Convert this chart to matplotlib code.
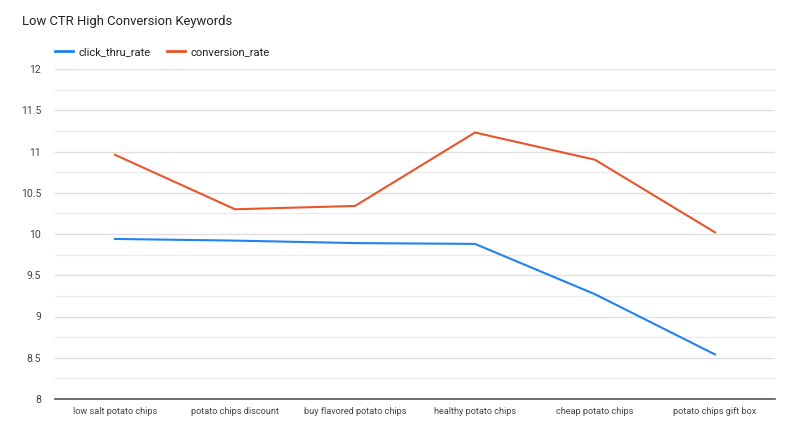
import matplotlib
matplotlib.use("Agg")
import matplotlib.pyplot as plt
from matplotlib.ticker import MultipleLocator
from matplotlib.lines import Line2D

categories = ["low salt potato chips", "potato chips discount", "buy flavored potato chips",
              "healthy potato chips", "cheap potato chips", "potato chips gift box"]
click_thru_rate = [9.94, 9.92, 9.89, 9.88, 9.27, 8.54]
conversion_rate = [10.96, 10.30, 10.34, 11.23, 10.90, 10.02]
y_ticks = [8, 8.5, 9, 9.5, 10, 10.5, 11, 11.5, 12]
y_tick_labels = ["8", "8.5", "9", "9.5", "10", "10.5", "11", "11.5", "12"]

plt.rcParams['font.family'] = ['Roboto', 'DejaVu Sans']

W, H = 800, 445
fig = plt.figure(figsize=(W / 100, H / 100), dpi=100)
ax = fig.add_axes([55 / W, 1 - 399 / H, (775 - 55) / W, (399 - 69) / H])

x = list(range(len(categories)))
blue = "#2182f0"
orange = "#e8552b"
ax.plot(x, click_thru_rate, color=blue, lw=1.5, solid_joinstyle="round")
ax.plot(x, conversion_rate, color=orange, lw=1.5, solid_joinstyle="round")

ax.set_xlim(-0.5, len(categories) - 0.5)
ax.set_ylim(8, 12)
ax.set_yticks(y_ticks)
ax.set_yticklabels(y_tick_labels)
ax.yaxis.set_minor_locator(MultipleLocator(0.25))
ax.set_xticks(x)
ax.set_xticklabels(categories)

ax.grid(axis="y", which="major", color="#e0e0e0", lw=1)
ax.grid(axis="y", which="minor", color="#ebebeb", lw=1)
ax.set_axisbelow(True)
for s in ["top", "right", "left"]:
    ax.spines[s].set_visible(False)
ax.spines["bottom"].set_color("#555555")
ax.spines["bottom"].set_linewidth(1.2)
ax.tick_params(axis="both", which="both", length=0, colors="#444444")
ax.tick_params(axis="y", labelsize=7.5, pad=10)
ax.tick_params(axis="x", labelsize=6.6, pad=6)
for lbl in ax.get_yticklabels():
    lbl.set_horizontalalignment("right")

fig.text(22 / W, 1 - 21 / H, "Low CTR High Conversion Keywords", fontsize=9.4,
         color="#222222", va="center", ha="left")

handles = [Line2D([0], [0], color=blue, lw=2), Line2D([0], [0], color=orange, lw=2)]
fig.legend(handles, ["click_thru_rate", "conversion_rate"], loc="center left",
           bbox_to_anchor=(45 / W, 1 - 52 / H), ncol=2, frameon=False, fontsize=8.1,
           handlelength=1.6, handletextpad=0.45, columnspacing=1.5, labelcolor="#222222")

fig.savefig("out.png", dpi=100)
